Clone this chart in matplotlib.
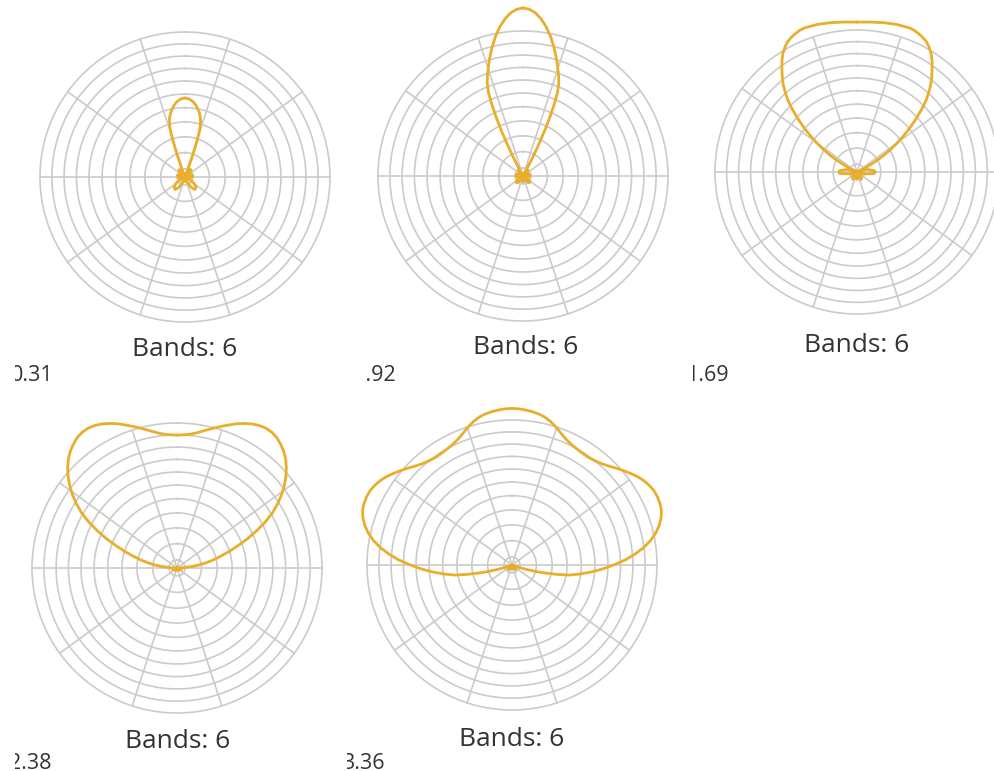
import numpy as np
import matplotlib
matplotlib.use("Agg")
import matplotlib.pyplot as plt

# ---------------- data ----------------
# polar patterns: angle from the top (deg, 0..180, mirrored) and relative radius
angles_1 = [0, 3, 6.1, 9, 12, 14.7, 16, 17, 17.8, 18.4, 19, 19.7, 20.5, 21.5, 22.5, 26, 32, 38, 44, 50, 56, 62,
            70, 80, 90, 100, 110, 118, 126, 134, 142, 150, 158, 165, 172, 180]
radius_1 = [0.545, 0.539, 0.523, 0.497, 0.462, 0.421, 0.39, 0.355, 0.31, 0.26, 0.20, 0.14, 0.08, 0.035, 0.015,
            0.03, 0.05, 0.065, 0.06, 0.04, 0.01, 0.02, 0.04, 0.055, 0.05, 0.03, 0.01, 0.04, 0.08, 0.105, 0.11,
            0.08, 0.03, 0.01, 0.02, 0.03]

angles_2 = [0, 2.1, 4.3, 6.5, 8.8, 11.2, 13.7, 16.3, 19.2, 21, 22.5, 23.5, 24.5, 25.5, 26.5, 27.5, 28.5, 29.5,
            34, 40, 46, 52, 60, 68, 76, 84, 92, 100, 110, 120, 130, 140, 150, 160, 170, 180]
radius_2 = [1.159, 1.151, 1.129, 1.092, 1.042, 0.98, 0.908, 0.83, 0.744, 0.69, 0.62, 0.54, 0.45, 0.35, 0.24,
            0.14, 0.06, 0.0, 0.03, 0.05, 0.04, 0.02, 0.0, 0.03, 0.045, 0.05, 0.05, 0.03, 0.01, 0.04, 0.065,
            0.06, 0.03, 0.01, 0.03, 0.04]

angles_3 = [0, 5, 10, 15, 20, 22, 24, 26, 28, 30, 32, 34, 36, 38, 40, 42, 44, 46, 48, 50, 52, 54, 56, 58, 60,
            62, 64, 66, 75, 85, 90, 95, 105, 115, 135, 150, 165, 180]
radius_3 = [1.056, 1.06, 1.068, 1.076, 1.08, 1.076, 1.067, 1.055, 1.04, 1.015, 0.985, 0.945, 0.90, 0.855, 0.81,
            0.755, 0.70, 0.63, 0.56, 0.49, 0.42, 0.355, 0.29, 0.225, 0.16, 0.095, 0.04, 0.0, 0.07, 0.12, 0.13,
            0.12, 0.05, 0.0, 0.04, 0.06, 0.03, 0.05]

angles_4 = [0, 2.5, 5, 7.5, 10, 12.5, 15, 17.5, 20, 22.5, 25, 27.5, 30, 32.5, 35, 37.5, 40, 42.5, 45, 47.5, 50,
            52.5, 55, 57.5, 60, 62.5, 65, 67.5, 70, 72.5, 75, 77.5, 80, 82, 84, 86, 88, 90, 110, 130, 150, 180]
radius_4 = [0.917, 0.919, 0.925, 0.937, 0.955, 0.977, 1.0, 1.025, 1.05, 1.077, 1.10, 1.12, 1.135, 1.143, 1.142,
            1.132, 1.113, 1.09, 1.06, 1.023, 0.98, 0.933, 0.88, 0.822, 0.76, 0.685, 0.605, 0.525, 0.445, 0.375,
            0.31, 0.255, 0.20, 0.155, 0.11, 0.06, 0.02, 0.0, 0.03, 0.0, 0.02, 0.01]

angles_5 = [0, 2.5, 5, 7.5, 10, 12.5, 15, 17.5, 20, 22.5, 25, 27.5, 30, 32.5, 35, 37.5, 40, 42.5, 45, 47.5, 50,
            52.5, 55, 57.5, 60, 62.5, 65, 67.5, 70, 72.5, 75, 77.5, 80, 82.5, 85, 87.5, 90, 92.5, 95, 97.5, 100,
            102, 104, 105.5, 107, 108.5, 110, 113, 125, 140, 160, 180]
radius_5 = [1.08, 1.078, 1.073, 1.067, 1.058, 1.045, 1.025, 1.0, 0.973, 0.95, 0.933, 0.922, 0.915, 0.911, 0.91,
            0.915, 0.925, 0.94, 0.96, 0.985, 1.01, 1.035, 1.06, 1.08, 1.095, 1.105, 1.108, 1.105, 1.097, 1.078,
            1.05, 1.015, 0.97, 0.915, 0.85, 0.78, 0.70, 0.625, 0.55, 0.475, 0.40, 0.31, 0.22, 0.16, 0.10, 0.05,
            0.02, 0.0, 0.02, 0.04, 0.02, 0.03]

frame_labels = ["0.31", "0.92", "1.69", "2.38", "3.36"]
band_labels = ["Bands: 6", "Bands: 6", "Bands: 6", "Bands: 6", "Bands: 6"]

ring_levels = [0.055, 0.168, 0.277, 0.380, 0.478, 0.572, 0.662, 0.749, 0.834, 0.918, 1.0]
spoke_angles = [0, 36, 72, 108, 144, 180, 216, 252, 288, 324]  # degrees from east

patterns = [(angles_1, radius_1), (angles_2, radius_2), (angles_3, radius_3),
            (angles_4, radius_4), (angles_5, radius_5)]

# ---------------- layout (pixels, top-left origin) ----------------
W, H = 995, 771
panels = [
    dict(crop=(15, 0, 362, 387), center=(185, 177), R=145, band=(185, 350), num=(11, 381)),
    dict(crop=(367, 0, 690, 387), center=(523, 176), R=145, band=(526, 348), num=(354, 381)),
    dict(crop=(693, 0, 995, 387), center=(857, 172), R=142, band=(857, 345), num=(686, 381)),
    dict(crop=(15, 392, 345, 771), center=(177, 568), R=145, band=(178, 741), num=(9, 769)),
    dict(crop=(347, 392, 690, 771), center=(512, 565), R=145, band=(512, 739), num=(342, 769)),
]

GRID = "#cbcbcb"
CURVE = "#e8ae2c"
TEXT = "#333333"
RMAX = 1.3

fig = plt.figure(figsize=(W / 100, H / 100), dpi=100, facecolor="white")


def px_rect(x0, y0, x1, y1):
    return [x0 / W, 1 - y1 / H, (x1 - x0) / W, (y1 - y0) / H]


# background frames with labels
for p, num, band in zip(panels, frame_labels, band_labels):
    x0, y0, x1, y1 = p["crop"]
    bg = fig.add_axes(px_rect(x0, y0, x1, y1))
    bg.set_xlim(x0, x1)
    bg.set_ylim(y1, y0)
    bg.set_facecolor("white")
    bg.set_xticks([])
    bg.set_yticks([])
    for s in bg.spines.values():
        s.set_visible(False)
    bx, by = p["band"]
    bg.text(bx, by, band, ha="center", va="center", fontsize=19,
            family=["Open Sans", "DejaVu Sans"], color=TEXT)
    nx, ny = p["num"]
    bg.text(nx, ny, num, ha="left", va="baseline", fontsize=15.5,
            family=["Open Sans", "DejaVu Sans"], color=TEXT, clip_on=True)

# polar plots
ring_theta = np.linspace(0, 2 * np.pi, 361)
for p, (ang, rad) in zip(panels, patterns):
    cx, cy = p["center"]
    R = p["R"]
    half = RMAX * R
    ax = fig.add_axes(px_rect(cx - half, cy - half, cx + half, cy + half), projection="polar")
    ax.set_theta_zero_location("N")
    ax.set_theta_direction(-1)
    ax.set_ylim(0, RMAX)
    ax.axis("off")
    for r in ring_levels:
        ax.plot(ring_theta, np.full_like(ring_theta, r), color=GRID, lw=1.2, zorder=1)
    for a in spoke_angles:
        t = np.deg2rad(90 - a)
        ax.plot([t, t], [0, ring_levels[-1]], color=GRID, lw=1.2, zorder=1)
    th = np.deg2rad(np.array(ang, dtype=float))
    rr = np.array(rad, dtype=float)
    th_full = np.concatenate([th, 2 * np.pi - th[::-1]])
    r_full = np.concatenate([rr, rr[::-1]])
    ax.plot(th_full, r_full, color=CURVE, lw=2.0, zorder=3, solid_joinstyle="round",
            solid_capstyle="round", clip_on=False)

fig.savefig("out.png", dpi=100, facecolor=fig.get_facecolor())
